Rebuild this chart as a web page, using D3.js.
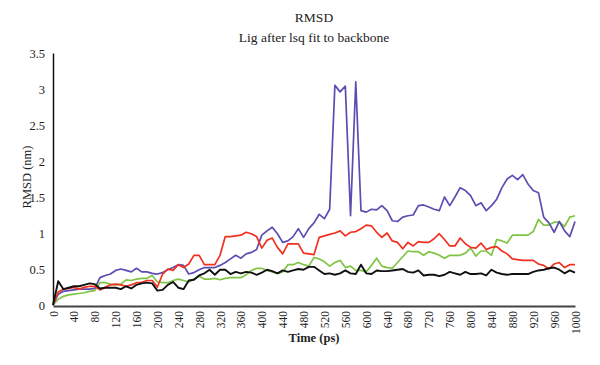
<!DOCTYPE html>
<html><head><meta charset="utf-8">
<script src="https://cdn.jsdelivr.net/npm/d3@7/dist/d3.min.js"></script>
<style>body{margin:0;background:#fff;} svg{display:block;} text{font-family:"Liberation Serif","DejaVu Serif",serif;fill:#222;}</style>
</head><body>
<svg id="chart" width="600" height="365"></svg>
<script>
const times = d3.range(0, 1001, 10);
const xTickLabels = d3.range(0, 1001, 40);
const yTickLabels = [0, 0.5, 1, 1.5, 2, 2.5, 3, 3.5];
const seriesNames = ["black", "red", "blue", "green"];

const blackSeries = [0,0.33,0.22,0.24,0.26,0.26,0.28,0.30,0.29,0.23,0.24,0.24,0.24,0.22,0.26,0.23,0.28,0.30,0.31,0.30,
0.20,0.21,0.28,0.32,0.24,0.22,0.34,0.35,0.41,0.44,0.49,0.42,0.49,0.49,0.43,0.46,0.44,0.46,0.45,0.42,
0.45,0.49,0.47,0.44,0.48,0.46,0.48,0.50,0.49,0.53,0.53,0.48,0.43,0.44,0.42,0.44,0.48,0.44,0.43,0.56,
0.44,0.43,0.48,0.47,0.47,0.48,0.49,0.50,0.46,0.45,0.48,0.41,0.42,0.42,0.40,0.42,0.46,0.44,0.42,0.46,
0.43,0.43,0.44,0.41,0.49,0.45,0.43,0.42,0.43,0.43,0.43,0.43,0.46,0.48,0.49,0.51,0.52,0.49,0.44,0.48,0.45];

const redSeries = [0,0.18,0.22,0.23,0.245,0.22,0.245,0.26,0.26,0.21,0.245,0.28,0.29,0.28,0.26,0.28,0.31,0.315,0.34,0.34,
0.25,0.43,0.50,0.48,0.56,0.52,0.57,0.69,0.69,0.56,0.56,0.56,0.69,0.95,0.95,0.96,0.97,1.01,0.99,0.95,
0.79,0.90,0.93,0.80,0.71,0.85,0.85,0.85,0.72,0.71,0.70,0.94,0.96,0.98,1.00,1.03,0.96,1.01,1.02,1.06,
1.11,1.10,1.01,0.94,1.00,0.89,0.87,0.78,0.87,0.82,0.88,0.87,0.87,0.92,0.99,0.91,0.82,0.82,0.93,0.85,
0.80,0.79,0.86,0.77,0.80,0.81,0.75,0.71,0.64,0.63,0.62,0.62,0.62,0.57,0.55,0.50,0.57,0.59,0.52,0.56,0.56];

const blueSeries = [0,0.15,0.19,0.20,0.21,0.22,0.22,0.22,0.23,0.38,0.41,0.43,0.48,0.50,0.48,0.46,0.51,0.46,0.46,0.44,
0.43,0.45,0.49,0.52,0.56,0.55,0.43,0.45,0.49,0.52,0.52,0.52,0.55,0.59,0.64,0.69,0.65,0.71,0.73,0.77,
0.97,1.03,1.08,0.99,0.87,0.89,0.95,1.06,0.94,1.06,1.14,1.26,1.20,1.33,3.05,2.96,3.04,1.24,3.10,1.31,
1.29,1.33,1.32,1.38,1.31,1.17,1.16,1.22,1.24,1.25,1.38,1.39,1.36,1.33,1.31,1.50,1.38,1.50,1.63,1.59,
1.52,1.38,1.42,1.31,1.38,1.47,1.63,1.75,1.80,1.74,1.81,1.68,1.59,1.56,1.22,1.14,1.01,1.16,1.03,0.95,1.16];

const greenSeries = [0,0.08,0.12,0.14,0.15,0.16,0.17,0.19,0.20,0.31,0.31,0.29,0.28,0.29,0.35,0.34,0.36,0.37,0.37,0.41,
0.32,0.31,0.31,0.34,0.36,0.34,0.32,0.36,0.40,0.36,0.36,0.37,0.35,0.37,0.38,0.38,0.38,0.42,0.48,0.51,
0.51,0.48,0.46,0.44,0.46,0.56,0.56,0.59,0.56,0.54,0.66,0.64,0.60,0.54,0.59,0.62,0.52,0.54,0.48,0.48,
0.46,0.55,0.65,0.54,0.52,0.51,0.59,0.67,0.75,0.74,0.74,0.69,0.74,0.72,0.69,0.65,0.69,0.69,0.69,0.72,
0.79,0.68,0.75,0.75,0.69,0.91,0.89,0.86,0.97,0.97,0.97,0.97,1.02,1.19,1.11,1.11,1.15,1.15,1.09,1.22,1.24];

const colors = {black:"#111111", red:"#f2301f", blue:"#5d4db3", green:"#80c446"};

const svg = d3.select("#chart");
const x = d3.scaleLinear().domain([0, 1000]).range([53, 575]);
const y = d3.scaleLinear().domain([0, 3.5]).range([305, 53]);

// titles
svg.append("text").attr("x", 314).attr("y", 22).attr("text-anchor", "middle")
  .style("font-size", "13.5px").text("RMSD");
svg.append("text").attr("x", 314).attr("y", 42).attr("text-anchor", "middle")
  .style("font-size", "13.5px").text("Lig after lsq fit to backbone");

// y axis
const yAxis = d3.axisLeft(y).tickValues(yTickLabels).tickSize(0).tickPadding(8)
  .tickFormat(d => String(d));
const gy = svg.append("g").attr("transform", "translate(53,0)").call(yAxis);
gy.select(".domain").attr("stroke", "#111").attr("stroke-width", 1.5);
gy.selectAll("text").style("font-size", "12.5px").style("font-family", "Liberation Serif, serif").attr("fill", "#222");

// x axis
const xAxis = d3.axisBottom(x).tickValues(xTickLabels).tickSize(0).tickPadding(0)
  .tickFormat(d => String(d));
const gx = svg.append("g").attr("transform", "translate(0,306)").call(xAxis);
gx.select(".domain").attr("stroke", "#444").attr("stroke-width", 2);
gx.selectAll("text").style("font-size", "11.5px").style("font-family", "Liberation Serif, serif")
  .attr("fill", "#222")
  .attr("text-anchor", "end").attr("dy", "0.35em").attr("y", 0)
  .attr("transform", "translate(0,5) rotate(-90)");

// axis titles
svg.append("text").attr("transform", "translate(31,177) rotate(-90)").attr("text-anchor", "middle")
  .style("font-size", "12.5px").text("RMSD (nm)");
svg.append("text").attr("x", 314).attr("y", 342).attr("text-anchor", "middle")
  .style("font-size", "12.5px").style("font-weight", "bold").text("Time (ps)");

// lines
const data = {black: blackSeries, red: redSeries, blue: blueSeries, green: greenSeries};
const line = d3.line().x((d, i) => x(times[i])).y(d => y(d));
["green", "blue", "red", "black"].forEach(name => {
  svg.append("path").datum(data[name]).attr("fill", "none")
    .attr("stroke", colors[name]).attr("stroke-width", name === "black" ? 1.9 : 1.7)
    .attr("stroke-linejoin", "round").attr("d", line);
});
</script>
</body></html>
